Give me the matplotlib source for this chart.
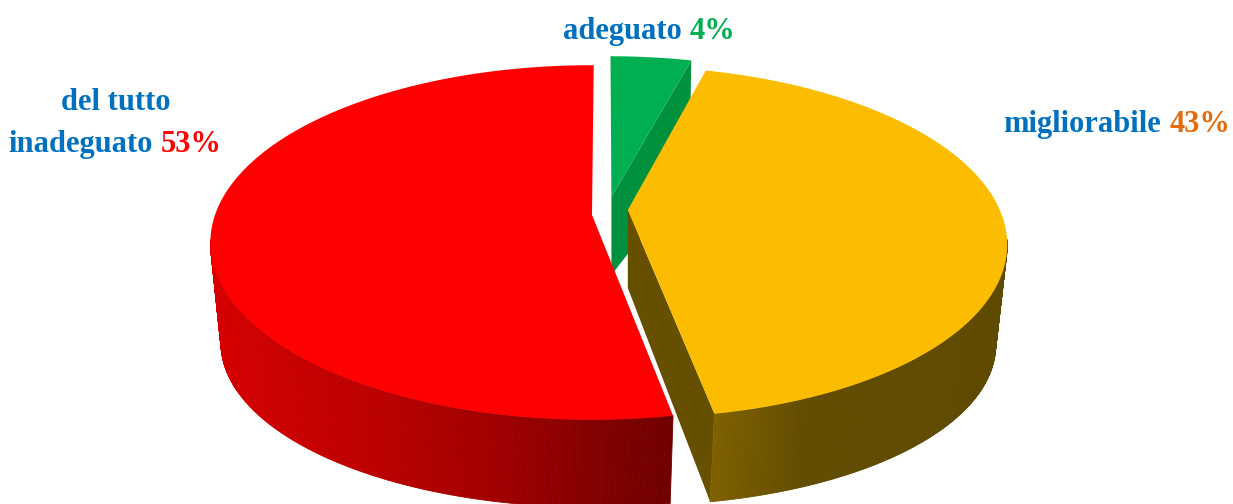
#!/usr/bin/env python
# -*- coding: utf-8 -*-
import matplotlib
matplotlib.use('Agg')
import matplotlib.pyplot as plt
import numpy as np

categories = ['del tutto inadeguato', 'migliorabile', 'adeguato']
values = [53, 43, 4]
value_labels = ['53%', '43%', '4%']

# perspective view of the pie, in image pixels
CX, CY = 592, 215
TOP = dict(a=377, b=173, y0=CY, p=0.155)
BOTTOM = dict(a=367, b=160.5, y0=319, p=0.147)
INNER_DEPTH = 78

C = {
    'red': '#FF0000', 'yellow': '#FCBD00', 'green': '#00B050',
    'yellow_face': '#665000', 'green_face': '#00913F',
    'blue': '#0070C0', 'orange': '#E46C0A',
}
FONT = dict(family=['Liberation Serif', 'DejaVu Serif'], fontweight='bold', fontsize=22)


def project(theta, plane, du=0.0, dv=0.0, radius=1.0):
    t = np.radians(theta)
    u = radius * np.cos(t) + du
    v = radius * np.sin(t) + dv
    w = 1 + plane['p'] * v
    return CX + plane['a'] * u / w, plane['y0'] - plane['b'] * v / w


def draw_top(ax, t0, t1, color, du=0.0, dv=0.0, lift=0.0, radius=1.0):
    theta = np.linspace(t0, t1, 200)
    x, y = project(theta, TOP, du, dv, radius)
    ax_, ay_ = project(0, TOP, du, dv, radius=0)
    ax.fill(np.r_[ax_, x], np.r_[ay_ - lift, y], color=color, lw=0, zorder=5)


def draw_wall(ax, t0, t1, xs, shades, du=0.0, dv=0.0, radius=1.0):
    theta = np.linspace(t0, t1, 200)
    xt, yt = project(theta, TOP, du, dv, radius)
    xb, yb = project(theta, BOTTOM, du, dv, radius)
    for i in range(len(theta) - 1):
        xm = (xb[i] + xb[i + 1]) / 2
        col = [np.interp(xm, xs, s) / 255 for s in shades]
        ax.fill([xt[i], xt[i + 1], xb[i + 1], xb[i]],
                [yt[i], yt[i + 1], yb[i + 1], yb[i]],
                facecolor=col, edgecolor=col, lw=0.6, zorder=3)


def draw_face(ax, theta, color, du=0.0, dv=0.0, lift=0.0, radius=1.0):
    ax0, ay0 = project(0, TOP, du, dv, radius=0)
    ay0 -= lift
    xt, yt = project(theta, TOP, du, dv, radius)
    xb, yb = project(theta, BOTTOM, du, dv, radius)
    ax.fill([ax0, xt, xb, ax0], [ay0, yt, yb, ay0 + INNER_DEPTH],
            color=color, lw=0, zorder=2)


def two_colour(ax, fig, x_right, y, left, right, col_left, col_right):
    # two colours on one line, right aligned on x_right
    t2 = ax.text(x_right, y, right, color=col_right, ha='right', va='baseline', **FONT)
    box = t2.get_window_extent(fig.canvas.get_renderer())
    ax.text(x_right - box.width - 8, y, left, color=col_left, ha='right', va='baseline', **FONT)


fig = plt.figure(figsize=(12.33, 5.04), dpi=100, facecolor='white')
ax = fig.add_axes([0, 0, 1, 1])
ax.set_xlim(0, 1233)
ax.set_ylim(504, 0)
ax.axis('off')

# angles from the values, counter-clockwise from 12 o'clock
sweep = np.array(values) / sum(values) * 360
red_t0, red_t1 = 89.7, 89.7 + sweep[0]
yel_t0, yel_t1 = red_t1, red_t1 + sweep[1]
gre_t0, gre_t1 = yel_t1, yel_t1 + sweep[2]

# green slice
G = dict(du=0.052, dv=0.07)
draw_face(ax, gre_t0, C['green_face'], lift=6, **G)
draw_top(ax, gre_t0, gre_t1, C['green'], lift=6, **G)

# yellow slice, wall only on the visible side
Y = dict(du=0.095, dv=0.0, radius=0.992)
draw_wall(ax, yel_t0, 352, [712, 800, 1010],
          [[127, 98, 94], [96, 76, 74], [0, 0, 0]], **Y)
draw_face(ax, yel_t0, C['yellow_face'], lift=5, **Y)
draw_top(ax, yel_t0, yel_t1, C['yellow'], lift=5, **Y)

# red slice
draw_wall(ax, 188, red_t1, [222, 390, 500, 600, 670],
          [[214, 185, 160, 130, 112], [0, 0, 0, 0, 0], [0, 0, 0, 0, 0]])
draw_top(ax, red_t0, red_t1, C['red'])

# labels
ax.text(116, 110, 'del tutto', color=C['blue'], ha='center', va='baseline', **FONT)
two_colour(ax, fig, 222, 152, 'inadeguato', value_labels[0], C['blue'], C['red'])
two_colour(ax, fig, 1230, 132, categories[1], value_labels[1], C['blue'], C['orange'])
two_colour(ax, fig, 735, 39, categories[2], value_labels[2], C['blue'], C['green'])

fig.savefig('out.png', dpi=100, facecolor='white')
plt.close()
